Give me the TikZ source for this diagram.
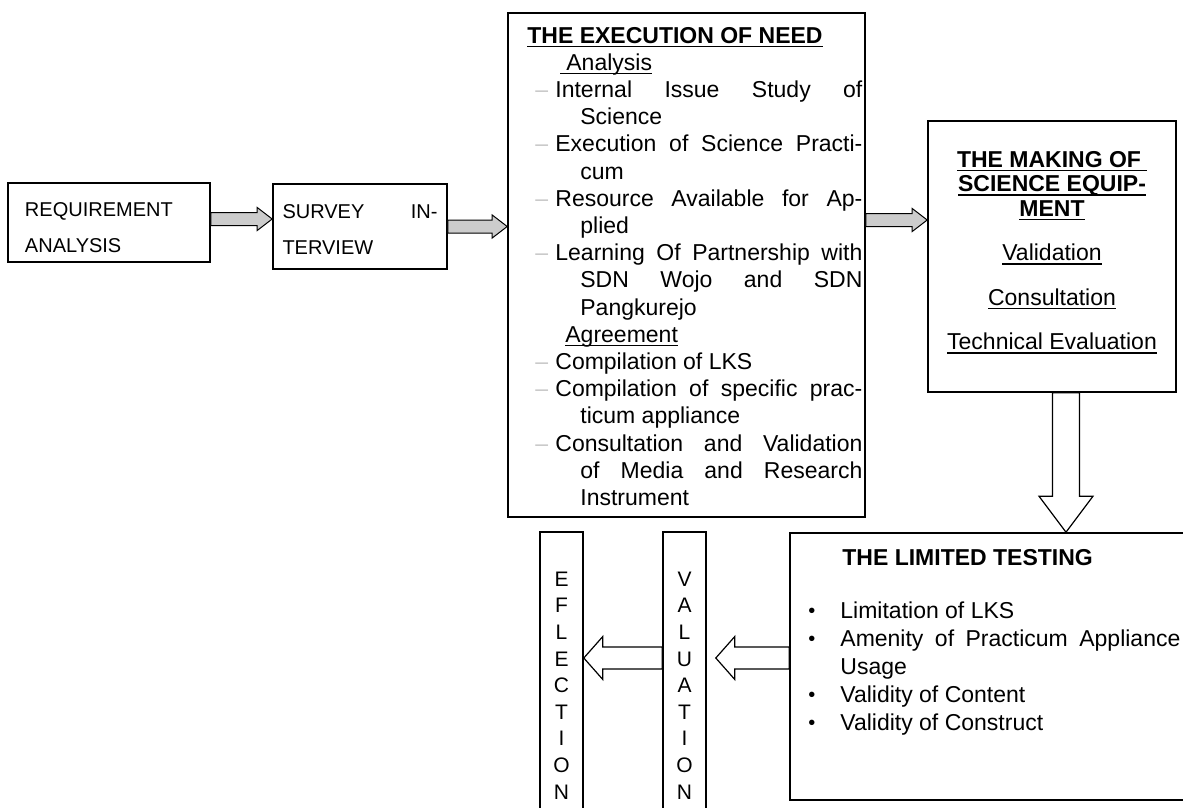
\documentclass[tikz,border=0pt]{standalone}
\usepackage{fontspec}
\setmainfont{Liberation Sans}
\usepackage{xcolor}
\usepackage{tikz}
\usetikzlibrary{calc}

\newsavebox{\ulbox}
\newcommand{\uln}[1]{\sbox{\ulbox}{#1}\rlap{\rule[-1.8pt]{\wd\ulbox}{0.55pt}}\usebox{\ulbox}}
\newcommand{\dashitem}{\par\hangindent=26.5pt\hangafter=1\makebox[14pt][l]{\hspace{4pt}\textcolor{black!22}{--}}}
\newcommand{\dotitem}{\par\hangindent=16pt\hangafter=1\makebox[16pt][l]{\raisebox{0.3pt}{\fontsize{10pt}{10pt}\selectfont\textbullet}}}

\begin{document}
\begin{tikzpicture}[x=0.5pt, y=-0.5pt,
    stagebox/.style={draw, line width=0.8pt},
    bigfont/.style={font=\fontsize{11.5pt}{13.6pt}\selectfont},
    smallfont/.style={font=\fontsize{10pt}{18pt}\selectfont},
    hblock/.style n args={3}{to path={let \p1=(\tikztostart), \p2=(\tikztotarget), \n1={sign((\x2)-(\x1))} in
        (\x1,{\y1+#1}) -- ({\x2-\n1*#3},{\y1+#1}) -- ({\x2-\n1*#3},{\y1+#2}) -- (\x2,\y1)
        -- ({\x2-\n1*#3},{\y1-#2}) -- ({\x2-\n1*#3},{\y1-#1}) -- (\x1,{\y1-#1}) -- cycle}},
    vblock/.style n args={3}{to path={let \p1=(\tikztostart), \p2=(\tikztotarget), \n1={sign((\y2)-(\y1))} in
        ({\x1+#1},\y1) -- ({\x1+#1},{\y2-\n1*#3}) -- ({\x1+#2},{\y2-\n1*#3}) -- (\x1,\y2)
        -- ({\x1-#2},{\y2-\n1*#3}) -- ({\x1-#1},{\y2-\n1*#3}) -- ({\x1-#1},\y1) -- cycle}},
    grayarrow/.style={line width=0.5pt, fill=gray!40, hblock={3.25pt}{5.75pt}{7.5pt}},
    openarrow/.style={line width=0.6pt, fill=white, hblock={5.5pt}{10.75pt}{9.5pt}},
    downarrow/.style={line width=0.6pt, fill=white, vblock={6.75pt}{13.5pt}{18pt}}]

    \useasboundingbox (0,0) rectangle (1183,808);

    % top row
    \node[stagebox, smallfont, minimum width=101pt, minimum height=39.5pt, text width=84pt, inner xsep=8.5pt, align=left] (req) at (109,222.5) {\rule{0pt}{12.2pt}REQUIREMENT\\ANALYSIS};
    \node[stagebox, smallfont, minimum width=87pt, minimum height=42.5pt, text width=77.5pt, inner xsep=4.75pt, align=left] (survey) at (360,226.5) {\rule{0pt}{9.5pt}SURVEY\hfill IN-\\TERVIEW};

    \node[stagebox, minimum width=178.5pt, minimum height=252pt] (exec) at (686.5,265) {};
    \node[bigfont, text width=167.5pt, inner sep=0pt, align=justify, anchor=north west] (execText) at (527,26.7) {%
        \parindent=0pt\tolerance=10000\hbadness=10000
        \textbf{\uln{THE EXECUTION OF NEED}}\par
        \hspace*{16.5pt}\uln{\hspace{3pt}Analysis}
        \dashitem Internal Issue Study of\linebreak Science
        \dashitem Execution of Science Practi-\linebreak cum
        \dashitem Resource Available for Ap-\linebreak plied
        \dashitem Learning Of Partnership with\linebreak SDN Wojo and SDN\linebreak Pangkurejo
        \par\hspace*{19pt}\uln{Agreement}
        \dashitem Compilation of LKS
        \dashitem Compilation of specific prac-\linebreak ticum appliance
        \dashitem Consultation and Validation\linebreak of Media and Research\linebreak Instrument\par};

    \node[stagebox, minimum width=124pt, minimum height=135.5pt, align=center, font=\fontsize{11.5pt}{12.25pt}\selectfont] (making) at (1052,256.5)
        {\textbf{\uln{THE MAKING OF\hspace{3pt}}}\\\textbf{\uln{SCIENCE EQUIP-}}\\\textbf{\uln{MENT}}\\[10pt]
         \uln{Validation}\\[10pt]\uln{Consultation}\\[10pt]\uln{Technical Evaluation}\rule[-5.8pt]{0pt}{1pt}};

    % bottom row
    \node[stagebox, minimum width=202.5pt, minimum height=133.5pt] (limited) at (992.5,666.5) {};
    \node[font=\fontsize{11.5pt}{14pt}\selectfont, text width=186pt, inner sep=0pt, align=justify, anchor=north west] (limitedText) at (808,548.8) {%
        \parindent=0pt\tolerance=10000\hbadness=10000
        \hspace*{17pt}\textbf{THE LIMITED TESTING}\par\vspace{12.5pt}
        \dotitem Limitation of LKS
        \dotitem Amenity of Practicum Appliance\linebreak Usage
        \dotitem Validity of Content
        \dotitem Validity of Construct\par};

    \node[stagebox, minimum width=21.5pt, minimum height=153.5pt, align=center, font=\fontsize{10.5pt}{13.3pt}\selectfont] (valuation) at (684.5,685.5) {V\\A\\L\\U\\A\\T\\I\\O\\N};
    \node[stagebox, minimum width=21.5pt, minimum height=153.5pt, align=center, font=\fontsize{10.5pt}{13.3pt}\selectfont] (eflection) at (561.5,685.5) {E\\F\\L\\E\\C\\T\\I\\O\\N};

    % connectors
    \draw[grayarrow] ([yshift=1.75pt]req.east) to (survey.west);
    \draw[grayarrow] (survey.east) to (exec.west);
    \draw[grayarrow] ([yshift=22.5pt]exec.east) to (making.west);
    \draw[downarrow] ([xshift=7pt]making.south) to (limited.north);
    \draw[openarrow] ([yshift=4.25pt]limited.west) to ([xshift=4.5pt]valuation.east);
    \draw[openarrow] ([yshift=13.75pt]valuation.west) to (eflection.east);
\end{tikzpicture}
\end{document}
